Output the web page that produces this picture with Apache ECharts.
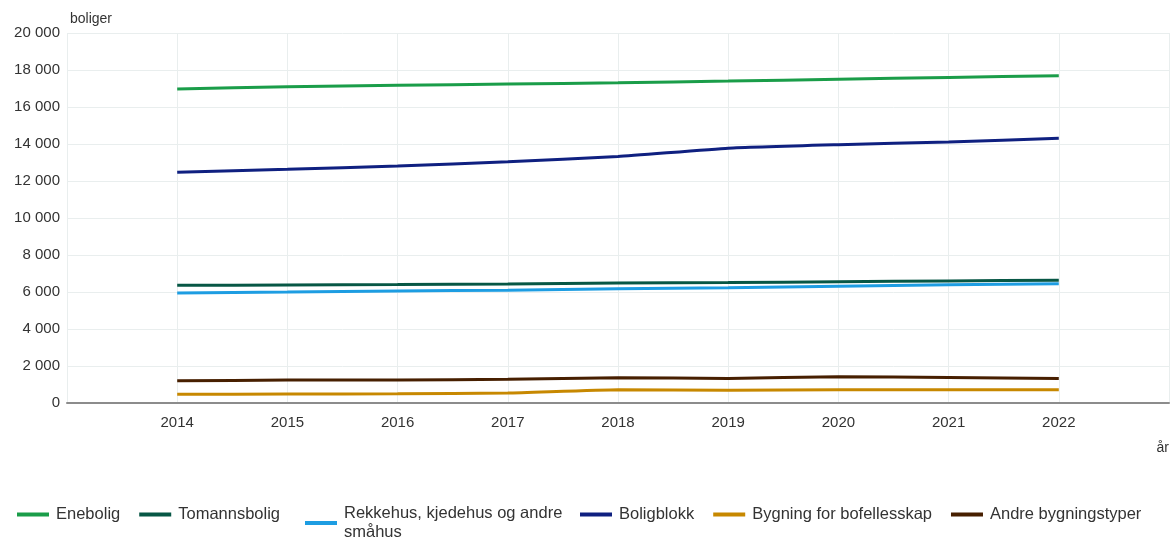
<!DOCTYPE html>
<html>
<head>
<meta charset="utf-8">
<script src="https://cdn.jsdelivr.net/npm/echarts@6/dist/echarts.min.js"></script>
<style>
  html, body { margin: 0; padding: 0; background: #fff; }
  #chart { width: 1172px; height: 537px; }
</style>
</head>
<body>
<div id="chart"></div>
<script>
var years = [2014, 2015, 2016, 2017, 2018, 2019, 2020, 2021, 2022];

var enebolig = [16970, 17100, 17170, 17240, 17310, 17400, 17500, 17600, 17690];
var tomannsbolig = [6360, 6380, 6400, 6430, 6480, 6510, 6550, 6600, 6630];
var rekkehus = [5950, 6000, 6060, 6100, 6170, 6230, 6310, 6390, 6450];
var boligblokk = [12470, 12630, 12810, 13040, 13320, 13770, 13960, 14110, 14310];
var bofellesskap = [470, 480, 500, 540, 720, 690, 720, 720, 720];
var andre = [1200, 1240, 1250, 1280, 1360, 1330, 1420, 1380, 1320];

var seriesNames = ['Enebolig', 'Tomannsbolig', 'Rekkehus, kjedehus og andre småhus',
    'Boligblokk', 'Bygning for bofellesskap', 'Andre bygningstyper'];
var seriesData = [enebolig, tomannsbolig, rekkehus, boligblokk, bofellesskap, andre];
var colors = ['#1a9d49', '#075745', '#1d9de2', '#0f2080', '#c78800', '#471f00'];

var fontFam = '"Liberation Sans", Arial, sans-serif';

function fmt(v) {
    return String(v).replace(/\B(?=(\d{3})+(?!\d))/g, ' ');
}

// legend split in three blocks so the two-line item sits like the original
function legendBlock(names, left, top) {
    return {
        left: left,
        top: top,
        padding: 0,
        itemWidth: 32,
        itemHeight: 4,
        itemGap: 19,
        icon: 'rect',
        textStyle: { fontSize: 16.5, color: '#333', fontFamily: fontFam, lineHeight: 19, padding: [0, 0, 0, 2] },
        formatter: (name) => name === seriesNames[2] ? 'Rekkehus, kjedehus og andre\nsmåhus' : name,
        data: names
    };
}

const getOption = () => {
    let series = seriesNames.map((name, i) => ({
        name: name,
        type: 'line',
        symbol: 'none',
        smooth: 0.15,
        lineStyle: { width: 3, color: colors[i] },
        itemStyle: { color: colors[i] },
        data: years.map((y, j) => [y, seriesData[i][j]])
    }));

    return {
        animation: false,
        color: colors,
        textStyle: { fontFamily: fontFam },
        grid: { left: 67, right: 1, top: 33, bottom: 134 },
        legend: [
            legendBlock(seriesNames.slice(0, 2), 17, 505),
            legendBlock(seriesNames.slice(2, 3), 305, 504),
            legendBlock(seriesNames.slice(3), 580, 505)
        ],
        xAxis: {
            type: 'value',
            min: 2013,
            max: 2023,
            interval: 1,
            name: 'år',
            nameLocation: 'end',
            nameGap: 0,
            nameTextStyle: { fontSize: 14, color: '#333', align: 'right', verticalAlign: 'top', padding: [38, 0, 0, 0] },
            axisLine: { show: true, lineStyle: { color: '#8c8c8c', width: 2 } },
            axisTick: { show: false },
            axisLabel: {
                fontSize: 15, color: '#333', margin: 12,
                formatter: (v) => (v === 2013 || v === 2023) ? '' : String(v)
            },
            splitLine: { show: true, lineStyle: { color: '#e9eeee', width: 1 } }
        },
        yAxis: {
            type: 'value',
            min: 0,
            max: 20000,
            interval: 2000,
            name: 'boliger',
            nameLocation: 'end',
            nameGap: 7,
            nameTextStyle: { fontSize: 14, color: '#333', align: 'left', padding: [0, 0, 0, 3] },
            axisLine: { show: false },
            axisTick: { show: false },
            axisLabel: { fontSize: 15, color: '#333', margin: 7, formatter: fmt },
            splitLine: { show: true, lineStyle: { color: '#e9eeee', width: 1 } }
        },
        series: series
    };
};

const chart = echarts.init(document.getElementById('chart'));
chart.setOption(getOption());
</script>
</body>
</html>
